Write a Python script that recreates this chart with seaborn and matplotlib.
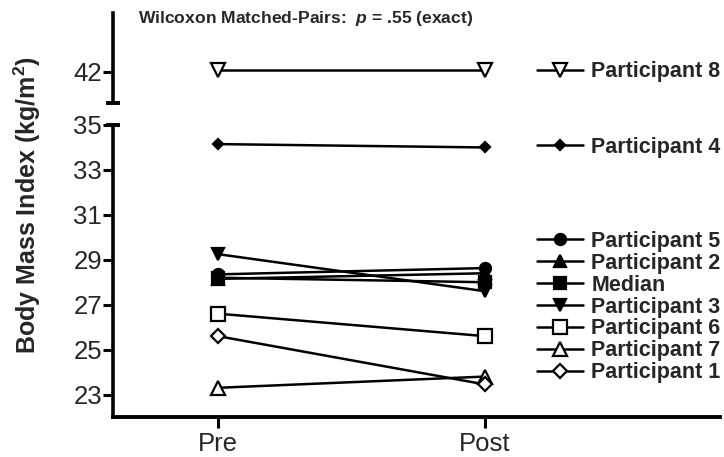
import matplotlib
matplotlib.use("Agg")
import matplotlib.pyplot as plt
import seaborn as sns
import pandas as pd
from matplotlib.lines import Line2D

sns.set_style("white")
plt.rcParams['font.family'] = ['Liberation Sans', 'DejaVu Sans']
plt.rcParams['mathtext.fontset'] = 'custom'
plt.rcParams['mathtext.bfit'] = 'Liberation Sans:bold:italic'
plt.rcParams['mathtext.rm'] = 'Liberation Sans:bold'

timepoints = ["Pre", "Post"]
series_names = ["Participant 8", "Participant 4", "Participant 5", "Participant 2",
                "Median", "Participant 3", "Participant 6", "Participant 7", "Participant 1"]
p8 = [42.1, 42.1]
p4 = [34.15, 34.0]
p5 = [28.35, 28.63]
p2 = [28.15, 28.4]
median = [28.2, 28.0]
p3 = [29.25, 27.6]
p6 = [26.6, 25.6]
p7 = [23.3, 23.8]
p1 = [25.6, 23.45]
values = [p8, p4, p5, p2, median, p3, p6, p7, p1]

styles = {
    "Participant 8": dict(marker='v', mfc='white', ms=9.5),
    "Participant 4": dict(marker='D', mfc='black', ms=5),
    "Participant 5": dict(marker='o', mfc='black', ms=8),
    "Participant 2": dict(marker='^', mfc='black', ms=8),
    "Median": dict(marker='s', mfc='black', ms=8.5),
    "Participant 3": dict(marker='v', mfc='black', ms=8),
    "Participant 6": dict(marker='s', mfc='white', ms=9.5),
    "Participant 7": dict(marker='^', mfc='white', ms=9.5),
    "Participant 1": dict(marker='D', mfc='white', ms=7),
}

fig = plt.figure(figsize=(7.24, 4.57), dpi=100)
W, H = 724, 457
left_px, right_px = 113, 720
ax_lo = fig.add_axes([left_px / W, (H - 417) / H, (right_px - left_px) / W, (417 - 125) / H])
ax_hi = fig.add_axes([left_px / W, (H - 103) / H, (right_px - left_px) / W, (103 - 13) / H])

xpos = {"Pre": 0, "Post": 1}
for name, vals in zip(series_names, values):
    df = pd.DataFrame({"x": [xpos[t] for t in timepoints], "y": vals})
    target = ax_hi if min(vals) > 38 else ax_lo
    st = styles[name]
    sns.lineplot(data=df, x="x", y="y", ax=target, color='black', lw=1.8,
                 marker=st['marker'], markerfacecolor=st['mfc'], markeredgecolor='black',
                 markersize=st['ms'], markeredgewidth=1.6, legend=False)

for ax in (ax_lo, ax_hi):
    ax.set_xlim(-0.393, 1.88)
    ax.set_xlabel("")
    ax.set_ylabel("")
    ax.set_facecolor('none')
    for s in ('top', 'right'):
        ax.spines[s].set_visible(False)
    ax.spines['left'].set_linewidth(2.6)
    ax.spines['left'].set_color('black')
    ax.tick_params(axis='y', direction='out', length=7, width=2.2, color='black',
                   labelsize=18.5, pad=1, left=True)

ax_lo.set_ylim(22, 35)
ax_lo.set_yticks([23, 25, 27, 29, 31, 33, 35])
ax_lo.spines['bottom'].set_linewidth(2.8)
ax_lo.spines['bottom'].set_color('black')
ax_lo.set_xticks([0, 1])
ax_lo.set_xticklabels(timepoints)
ax_lo.tick_params(axis='x', direction='out', length=8, width=2.2, color='black',
                  labelsize=18.5, pad=3, bottom=True)

ax_hi.set_ylim(40.63, 44.6)
ax_hi.set_yticks([42])
ax_hi.spines['bottom'].set_visible(False)
ax_hi.set_xticks([])

# axis break caps
for ax, yv in ((ax_lo, 1.0), (ax_hi, 0.0)):
    ax.plot([-0.011, 0.011], [yv, yv], transform=ax.transAxes, color='black',
            lw=2.8, clip_on=False, solid_capstyle='butt')

fig.text(27 / W, (H - 205) / H, "Body Mass Index (kg/m$^{2}$)", rotation=90,
         fontsize=18, fontweight='bold', ha='center', va='center')

fig.text(138 / W, (H - 18) / H, r"Wilcoxon Matched-Pairs:  $\mathbfit{p}$ = .55 (exact)",
         fontsize=12.6, fontweight='bold', ha='left', va='center')

def handle(name):
    st = styles[name]
    return Line2D([], [], color='black', lw=1.8, marker=st['marker'],
                  markerfacecolor=st['mfc'], markeredgecolor='black',
                  markersize=st['ms'], markeredgewidth=1.6)

leg_kw = dict(frameon=False, handlelength=2.15, handletextpad=0.38,
              prop={'weight': 'bold', 'size': 15.5}, borderpad=0, borderaxespad=0)

for name, ypx in (("Participant 8", 72), ("Participant 4", 147)):
    lg = fig.legend([handle(name)], [name], loc='center left',
                    bbox_to_anchor=(537 / W, (H - ypx) / H), **leg_kw)

lower_names = series_names[2:]
lg = fig.legend([handle(n) for n in lower_names], lower_names, loc='upper left',
                bbox_to_anchor=(537 / W, (H - 231) / H), labelspacing=0.04, **leg_kw)

fig.savefig("out.png", dpi=100)
